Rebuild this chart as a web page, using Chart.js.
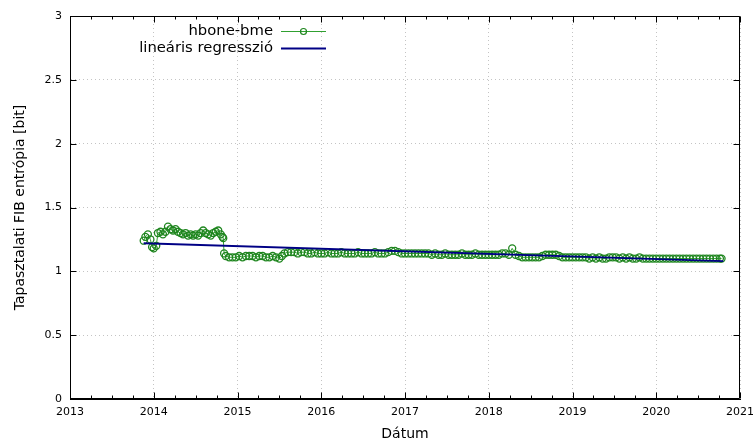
<!DOCTYPE html>
<html><head><meta charset="utf-8">
<script src="https://cdn.jsdelivr.net/npm/chart.js@4"></script>
<style>html,body{margin:0;padding:0;background:#fff}#wrap{width:755px;height:441px}</style>
</head><body><div id="wrap"><canvas id="c" width="755" height="441"></canvas></div>
<script>
const seriesNames = ['hbone-bme', 'lineáris regresszió'];
const axisTitles = { x: 'Dátum', y: 'Tapasztalati FIB entrópia [bit]' };
const xTickValues = [2013, 2014, 2015, 2016, 2017, 2018, 2019, 2020, 2021];
const yTickValues = [0, 0.5, 1, 1.5, 2, 2.5, 3];

const dates = [
  2013.88, 2013.90, 2013.93, 2013.96, 2013.98, 2014.00, 2014.03, 2014.05, 2014.08, 2014.11,
  2014.14, 2014.17, 2014.20, 2014.23, 2014.26, 2014.29, 2014.32, 2014.35, 2014.38, 2014.41,
  2014.44, 2014.47, 2014.50, 2014.53, 2014.56, 2014.59, 2014.62, 2014.65, 2014.68, 2014.71,
  2014.74, 2014.77, 2014.80, 2014.82, 2014.83, 2014.84, 2014.86,
  2014.90, 2014.94, 2014.98, 2015.02, 2015.06, 2015.10, 2015.14, 2015.18, 2015.22, 2015.26,
  2015.30, 2015.34, 2015.38, 2015.42, 2015.46, 2015.50, 2015.53, 2015.56, 2015.60,
  2015.64, 2015.68, 2015.72, 2015.76, 2015.80, 2015.84, 2015.88, 2015.92, 2015.96, 2016.00,
  2016.04, 2016.08, 2016.12, 2016.16, 2016.20, 2016.24, 2016.28, 2016.32, 2016.36, 2016.40,
  2016.44, 2016.48, 2016.52, 2016.56, 2016.60, 2016.64, 2016.68, 2016.72, 2016.76,
  2016.80, 2016.84, 2016.88, 2016.92, 2016.96,
  2017.00, 2017.04, 2017.08, 2017.12, 2017.16, 2017.20, 2017.24, 2017.28, 2017.32, 2017.36,
  2017.40, 2017.44, 2017.48, 2017.52, 2017.56, 2017.60, 2017.64, 2017.68, 2017.72, 2017.76,
  2017.80, 2017.84, 2017.88, 2017.92, 2017.96, 2018.00, 2018.04, 2018.08, 2018.12, 2018.16,
  2018.20, 2018.24, 2018.28,
  2018.32, 2018.36, 2018.40, 2018.44, 2018.48, 2018.52, 2018.56, 2018.60, 2018.64, 2018.68,
  2018.72, 2018.76, 2018.80, 2018.84, 2018.88, 2018.92, 2018.96,
  2019.00, 2019.04, 2019.08, 2019.12, 2019.16, 2019.20, 2019.24, 2019.28, 2019.32, 2019.36,
  2019.40, 2019.44, 2019.48, 2019.52, 2019.56, 2019.60, 2019.64, 2019.68, 2019.72, 2019.76,
  2019.80, 2019.84, 2019.88, 2019.92, 2019.96, 2020.00, 2020.04, 2020.08, 2020.12, 2020.16,
  2020.20, 2020.24, 2020.28, 2020.32, 2020.36, 2020.40, 2020.44, 2020.48, 2020.52, 2020.56,
  2020.60, 2020.64, 2020.68, 2020.72, 2020.76, 2020.78
];
const entropy = [
  1.24, 1.27, 1.29, 1.25, 1.19, 1.18, 1.20, 1.30, 1.31, 1.29,
  1.31, 1.35, 1.33, 1.32, 1.33, 1.31, 1.30, 1.29, 1.30, 1.28,
  1.29, 1.28, 1.29, 1.28, 1.30, 1.32, 1.30, 1.29, 1.28, 1.30,
  1.31, 1.32, 1.29, 1.27, 1.26, 1.14, 1.12,
  1.11, 1.11, 1.11, 1.12, 1.11, 1.12, 1.12, 1.12, 1.11, 1.12,
  1.12, 1.11, 1.11, 1.12, 1.11, 1.10, 1.12, 1.14, 1.15,
  1.15, 1.15, 1.14, 1.15, 1.15, 1.14, 1.14, 1.15, 1.14, 1.14,
  1.14, 1.15, 1.14, 1.14, 1.14, 1.15, 1.14, 1.14, 1.14, 1.14,
  1.15, 1.14, 1.14, 1.14, 1.14, 1.15, 1.14, 1.14, 1.14,
  1.15, 1.16, 1.16, 1.15, 1.14,
  1.14, 1.14, 1.14, 1.14, 1.14, 1.14, 1.14, 1.14, 1.13, 1.14,
  1.13, 1.13, 1.14, 1.13, 1.13, 1.13, 1.13, 1.14, 1.13, 1.13,
  1.13, 1.14, 1.13, 1.13, 1.13, 1.13, 1.13, 1.13, 1.13, 1.14,
  1.14, 1.13, 1.18,
  1.13, 1.12, 1.11, 1.11, 1.11, 1.11, 1.11, 1.11, 1.12, 1.13,
  1.13, 1.13, 1.13, 1.12, 1.11, 1.11, 1.11,
  1.11, 1.11, 1.11, 1.11, 1.11, 1.10, 1.11, 1.10, 1.11, 1.10,
  1.10, 1.11, 1.11, 1.11, 1.10, 1.11, 1.10, 1.11, 1.10, 1.10,
  1.11, 1.10, 1.10, 1.10, 1.10, 1.10, 1.10, 1.10, 1.10, 1.10,
  1.10, 1.10, 1.10, 1.10, 1.10, 1.10, 1.10, 1.10, 1.10, 1.10,
  1.10, 1.10, 1.10, 1.10, 1.10, 1.10
];
const regressionDates = [2013.88, 2020.80];
const regressionValues = [1.22, 1.08];

const FONT = 'DejaVu Sans';
const GREEN_LINE = '#30a030';
const GREEN_MARK = '#1f861f';
const BLUE = '#000085';

const framePlugin = {
  id: 'frame',
  afterDraw(chart) {
    const { ctx, chartArea: a, scales: { x, y } } = chart;
    const L = Math.round(a.left) + 0.5, R = Math.round(a.right) - 0.5;
    const T = Math.round(a.top) + 0.5, B = Math.round(a.bottom) - 0.5;
    ctx.save();
    ctx.strokeStyle = '#000';
    ctx.lineWidth = 1;
    ctx.beginPath();
    ctx.rect(L, T, R - L, B - T);
    for (let i = 0; i < xTickValues.length; i++) {
      const v = xTickValues[i];
      const px = Math.round(x.getPixelForValue(v)) + 0.5;
      ctx.moveTo(px, B); ctx.lineTo(px, B - 6);
      ctx.moveTo(px, T); ctx.lineTo(px, T + 6);
      if (i < xTickValues.length - 1) {
        for (const q of [0.25, 0.5, 0.75]) {
          const mx = Math.round(x.getPixelForValue(v + q)) + 0.5;
          ctx.moveTo(mx, B); ctx.lineTo(mx, B - 3);
          ctx.moveTo(mx, T); ctx.lineTo(mx, T + 3);
        }
      }
    }
    for (const v of yTickValues) {
      const py = Math.round(y.getPixelForValue(v)) + 0.5;
      ctx.moveTo(L, py); ctx.lineTo(L + 6, py);
      ctx.moveTo(R, py); ctx.lineTo(R - 6, py);
    }
    ctx.stroke();
    ctx.restore();
  }
};

const legendPlugin = {
  id: 'gpLegend',
  afterDraw(chart) {
    const { ctx } = chart;
    ctx.save();
    ctx.font = '14.8px "' + FONT + '"';
    ctx.fillStyle = '#000';
    ctx.textAlign = 'right';
    ctx.textBaseline = 'middle';
    const rows = [
      { label: seriesNames[0], y: 31, color: GREEN_LINE, marker: true },
      { label: seriesNames[1], y: 48, color: BLUE, marker: false }
    ];
    for (const r of rows) {
      ctx.fillText(r.label, 273, r.y);
      ctx.beginPath();
      ctx.strokeStyle = r.color;
      ctx.lineWidth = r.marker ? 1 : 1.8;
      ctx.moveTo(281, r.y + 0.5); ctx.lineTo(326, r.y + 0.5);
      ctx.stroke();
      if (r.marker) {
        ctx.beginPath();
        ctx.strokeStyle = GREEN_MARK;
        ctx.lineWidth = 1.2;
        ctx.arc(303.5, r.y + 0.5, 3, 0, Math.PI * 2);
        ctx.stroke();
      }
    }
    ctx.restore();
  }
};

new Chart(document.getElementById('c'), {
  type: 'scatter',
  data: {
    datasets: [
      {
        label: seriesNames[0],
        data: dates.map((d, i) => ({ x: d, y: entropy[i] })),
        showLine: true,
        borderColor: GREEN_LINE,
        borderWidth: 1,
        pointBorderColor: GREEN_MARK,
        pointBackgroundColor: 'rgba(0,0,0,0)',
        pointRadius: 3.5,
        pointBorderWidth: 1.3,
        pointStyle: 'circle',
        order: 2
      },
      {
        label: seriesNames[1],
        data: regressionDates.map((d, i) => ({ x: d, y: regressionValues[i] })),
        showLine: true,
        borderColor: BLUE,
        borderWidth: 1.8,
        pointRadius: 0,
        order: 1
      }
    ]
  },
  options: {
    responsive: false,
    animation: false,
    devicePixelRatio: 1,
    layout: { padding: { top: 16, right: 15, left: 0, bottom: 0 } },
    plugins: { legend: { display: false }, tooltip: { enabled: false } },
    scales: {
      x: {
        type: 'linear',
        min: 2013, max: 2021,
        afterFit(s) { s.height = 42; s.paddingLeft = 0; s.paddingRight = 0; },
        afterBuildTicks(s) { s.ticks = xTickValues.map(v => ({ value: v })); },
        ticks: {
          callback: v => String(v),
          font: { family: FONT, size: 11 },
          color: '#000',
          padding: 7,
          maxRotation: 0,
          autoSkip: false
        },
        grid: {
          color: '#c4c4c4',
          lineWidth: 1,
          drawTicks: false,
          tickLength: 0
        },
        border: { color: '#000', width: 1, dash: [1, 3] },
        title: {
          display: true,
          text: axisTitles.x,
          font: { family: FONT, size: 14, lineHeight: 1.0 },
          color: '#000',
          padding: { top: 12, bottom: 0 }
        }
      },
      y: {
        type: 'linear',
        min: 0, max: 3,
        afterFit(s) { s.width = 70; s.paddingTop = 0; s.paddingBottom = 0; },
        afterBuildTicks(s) { s.ticks = yTickValues.map(v => ({ value: v })); },
        ticks: {
          callback: v => String(v),
          font: { family: FONT, size: 11 },
          color: '#000',
          padding: 8
        },
        grid: {
          color: '#c4c4c4',
          lineWidth: 1,
          drawTicks: false,
          tickLength: 0
        },
        border: { color: '#000', width: 1, dash: [1, 3] },
        title: {
          display: true,
          text: axisTitles.y,
          font: { family: FONT, size: 14 },
          color: '#000',
          padding: { top: 12, bottom: 0 }
        }
      }
    }
  },
  plugins: [framePlugin, legendPlugin]
});
</script>
</body></html>
